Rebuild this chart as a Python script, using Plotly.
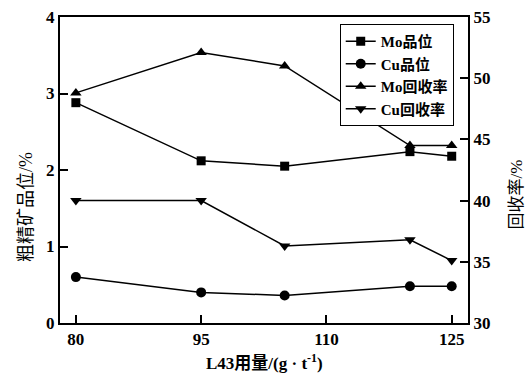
import plotly.graph_objects as go

dosage = [80, 95, 105, 120, 125]
mo_grade = [2.88, 2.12, 2.05, 2.24, 2.18]
cu_grade = [0.60, 0.40, 0.36, 0.48, 0.48]
mo_recovery = [48.8, 52.1, 51.0, 44.5, 44.5]
cu_recovery = [40.0, 40.0, 36.3, 36.8, 35.1]

x_ticks = [80, 95, 110, 125]
left_ticks = [0, 1, 2, 3, 4]
right_ticks = [30, 35, 40, 45, 50, 55]

x_title = "L43用量/(g · t<sup>-1</sup>)"
left_title = "粗精矿品位/%"
right_title = "回收率/%"

FONT = "Liberation Serif, Times New Roman, Noto Sans CJK SC, serif"
line = dict(color="black", width=1.5)

fig = go.Figure()
fig.add_trace(go.Scatter(x=dosage, y=mo_grade, name="Mo品位", mode="lines+markers",
                         line=line, marker=dict(symbol="square", size=9, color="black")))
fig.add_trace(go.Scatter(x=dosage, y=cu_grade, name="Cu品位", mode="lines+markers",
                         line=line, marker=dict(symbol="circle", size=10, color="black")))
fig.add_trace(go.Scatter(x=dosage, y=mo_recovery, name="Mo回收率", mode="lines+markers",
                         line=line, marker=dict(symbol="triangle-up", size=10, color="black"),
                         yaxis="y2"))
fig.add_trace(go.Scatter(x=dosage, y=cu_recovery, name="Cu回收率", mode="lines+markers",
                         line=line, marker=dict(symbol="triangle-down", size=10, color="black"),
                         yaxis="y2"))

axis_common = dict(showline=True, linecolor="black", linewidth=2, ticks="inside",
                   ticklen=8, tickwidth=1.5, tickcolor="black", showgrid=False,
                   zeroline=False, automargin=False,
                   tickfont=dict(family=FONT, size=17, color="black", weight="bold"))

fig.update_layout(
    width=528, height=374,
    margin=dict(l=60, r=60, t=17, b=51),
    paper_bgcolor="white", plot_bgcolor="white",
    font=dict(family=FONT, color="black"),
    xaxis=dict(range=[78.1, 126.95], tickvals=x_ticks, mirror=True, **axis_common),
    yaxis=dict(range=[0, 4], tickvals=left_ticks, **axis_common),
    yaxis2=dict(range=[30, 55], tickvals=right_ticks, overlaying="y", side="right",
                **axis_common),
    legend=dict(x=0.965, y=0.977, xanchor="right", yanchor="top",
                bgcolor="white", bordercolor="black", borderwidth=1,
                font=dict(family=FONT, size=15, color="black", weight="bold"),
                itemwidth=30, tracegroupgap=0),
    showlegend=True,
)

fig.add_annotation(text=x_title, xref="paper", yref="paper", x=0.5, y=-0.127,
                   xanchor="center", yanchor="middle", showarrow=False,
                   font=dict(family=FONT, size=17, color="black", weight="bold"))
fig.add_annotation(text=left_title, xref="paper", yref="paper", x=-0.085, y=0.38,
                   xanchor="center", yanchor="middle", showarrow=False, textangle=-90,
                   font=dict(family=FONT, size=18, color="black"))
fig.add_annotation(text=right_title, xref="paper", yref="paper", x=1.12, y=0.42,
                   xanchor="center", yanchor="middle", showarrow=False, textangle=-90,
                   font=dict(family=FONT, size=17, color="black"))

fig.write_html("out.html", config={"displayModeBar": False},
               post_script="document.body.style.margin='0';document.body.style.overflow='hidden';")
